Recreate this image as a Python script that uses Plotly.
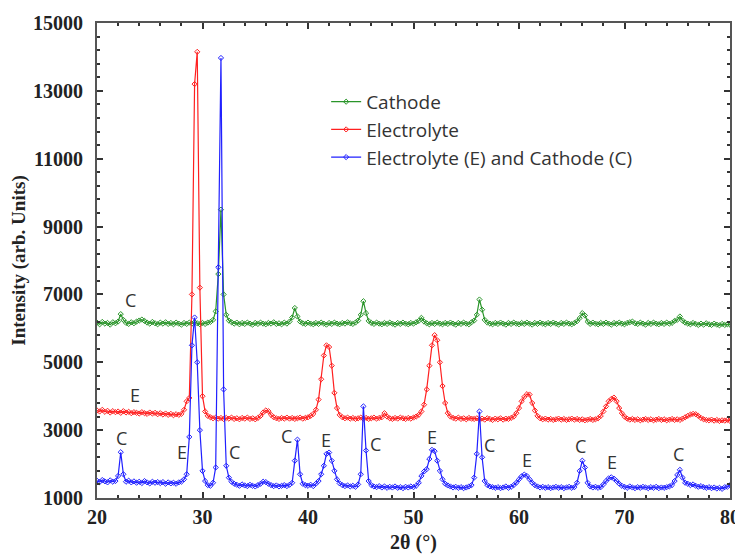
import numpy as np
import plotly.graph_objects as go

# 2-theta sampling grid (degrees), step 0.25 from 20 to 80
two_theta = [round(20 + 0.25 * i, 2) for i in range(241)]

cathode = [
    6170, 6120, 6190, 6140, 6160, 6110, 6180, 6150,
    6200, 6420, 6250, 6160, 6130, 6180, 6150, 6200,
    6230, 6260, 6220, 6170, 6140, 6190, 6150, 6120,
    6170, 6140, 6180, 6130, 6160, 6120, 6170, 6140,
    6110, 6160, 6130, 6170, 6140, 6180, 6150, 6120,
    6160, 6130, 6170, 6190, 6250, 6500, 7600, 9500,
    7000, 6400, 6230, 6180, 6140, 6170, 6120, 6160,
    6130, 6170, 6140, 6110, 6160, 6130, 6170, 6140,
    6120, 6160, 6140, 6180, 6130, 6150, 6120, 6170,
    6140, 6200, 6320, 6600, 6350, 6200, 6150, 6130,
    6170, 6140, 6120, 6160, 6130, 6170, 6140, 6110,
    6160, 6130, 6170, 6140, 6120, 6160, 6140, 6180,
    6150, 6130, 6170, 6230, 6400, 6800, 6450, 6220,
    6160, 6130, 6170, 6140, 6120, 6160, 6130, 6170,
    6140, 6110, 6160, 6130, 6170, 6140, 6120, 6160,
    6140, 6180, 6220, 6310, 6200, 6150, 6120, 6160,
    6130, 6170, 6140, 6120, 6160, 6130, 6170, 6140,
    6110, 6160, 6130, 6170, 6140, 6120, 6180, 6230,
    6400, 6850, 6550, 6250, 6170, 6140, 6120, 6160,
    6130, 6170, 6140, 6110, 6160, 6130, 6170, 6140,
    6120, 6160, 6130, 6170, 6140, 6110, 6160, 6130,
    6170, 6140, 6120, 6160, 6130, 6170, 6140, 6110,
    6160, 6130, 6170, 6140, 6120, 6160, 6210, 6300,
    6450, 6380, 6200, 6130, 6170, 6140, 6120, 6160,
    6130, 6170, 6140, 6110, 6160, 6130, 6170, 6140,
    6120, 6160, 6180, 6200, 6150, 6130, 6170, 6140,
    6110, 6160, 6130, 6170, 6140, 6120, 6160, 6130,
    6170, 6140, 6160, 6220, 6250, 6350, 6230, 6170,
    6140, 6120, 6160, 6130, 6100, 6140, 6110, 6150,
    6120, 6100, 6140, 6110, 6090, 6130, 6100, 6120,
    6110,
]

electrolyte = [
    3580, 3550, 3600, 3540, 3570, 3520, 3560, 3530,
    3550, 3510, 3560, 3520, 3540, 3500, 3530, 3510,
    3490, 3530, 3500, 3480, 3520, 3490, 3510, 3470,
    3500, 3460, 3490, 3450, 3480, 3440, 3470, 3450,
    3480, 3600, 3850, 3950, 7000, 13200, 14150, 7200,
    4000, 3550, 3420, 3380, 3350, 3370, 3340, 3360,
    3330, 3360, 3340, 3370, 3330, 3350, 3320, 3360,
    3340, 3370, 3330, 3350, 3320, 3360, 3420, 3520,
    3580, 3560, 3450, 3380, 3350, 3330, 3360, 3340,
    3370, 3340, 3360, 3330, 3350, 3370, 3340, 3360,
    3380, 3420, 3480, 3600, 3900, 4500, 5200, 5500,
    5450, 4900, 4100, 3650, 3450, 3380, 3350, 3370,
    3340, 3360, 3330, 3350, 3370, 3340, 3360, 3330,
    3350, 3370, 3340, 3360, 3380, 3500, 3400, 3350,
    3330, 3360, 3340, 3370, 3350, 3330, 3360, 3340,
    3370, 3400, 3450, 3550, 3750, 4200, 4900, 5500,
    5800, 5650, 5000, 4300, 3800, 3500, 3400, 3360,
    3340, 3370, 3330, 3350, 3320, 3360, 3340, 3330,
    3350, 3320, 3340, 3310, 3350, 3330, 3300, 3340,
    3320, 3350, 3310, 3340, 3330, 3360, 3400, 3500,
    3650, 3850, 3980, 4060, 4050, 3800, 3580, 3420,
    3350, 3320, 3340, 3310, 3330, 3300, 3320, 3340,
    3310, 3330, 3300, 3320, 3340, 3310, 3330, 3300,
    3320, 3290, 3310, 3330, 3300, 3320, 3350, 3420,
    3550, 3700, 3850, 3920, 3960, 3850, 3650, 3500,
    3400, 3340, 3310, 3330, 3300, 3320, 3290, 3310,
    3330, 3300, 3320, 3290, 3310, 3330, 3300, 3320,
    3290, 3310, 3330, 3300, 3320, 3300, 3340, 3380,
    3420, 3460, 3480, 3470, 3420, 3360, 3320, 3300,
    3290, 3310, 3280, 3300, 3270, 3290, 3280, 3300,
    3270,
]

combined = [
    1510, 1470, 1530, 1490, 1460, 1520, 1480, 1500,
    1650, 2350, 1700, 1480, 1510, 1460, 1490, 1450,
    1480, 1440, 1500, 1460, 1430, 1480, 1450, 1470,
    1440, 1470, 1420, 1460, 1430, 1450, 1420, 1460,
    1480, 1550, 1700, 2800, 5500, 6320, 5000, 3000,
    1800, 1500, 1380, 1360, 1450, 1900, 7800, 13970,
    4200, 1950, 1600, 1480, 1420, 1390, 1360, 1400,
    1370, 1350, 1390, 1360, 1340, 1380, 1420, 1480,
    1470, 1420, 1380, 1350, 1370, 1340, 1360, 1380,
    1350, 1390, 1450, 2100, 2720, 1700, 1420, 1380,
    1360, 1390, 1350, 1420, 1500, 1700, 1950, 2300,
    2340, 2100, 1800, 1550, 1430, 1380, 1350, 1370,
    1340, 1360, 1330, 1400, 1700, 3700, 2400, 1500,
    1380, 1340, 1320, 1350, 1310, 1340, 1300, 1330,
    1310, 1340, 1300, 1320, 1290, 1330, 1310, 1340,
    1320, 1360, 1450, 1650, 1780, 1850, 2150, 2420,
    2380, 2100, 1800, 1550, 1420, 1370, 1340, 1310,
    1330, 1300, 1320, 1290, 1310, 1340, 1380, 1600,
    2300, 3550, 2200, 1500, 1380, 1340, 1320, 1300,
    1320, 1290, 1310, 1340, 1300, 1330, 1380, 1450,
    1550, 1640, 1690, 1650, 1550, 1450, 1380, 1340,
    1310, 1330, 1300, 1320, 1290, 1310, 1330, 1300,
    1320, 1290, 1310, 1330, 1300, 1320, 1450, 1800,
    2100, 1900, 1450, 1340, 1310, 1330, 1300, 1320,
    1400, 1500, 1580, 1610, 1570, 1500, 1420, 1360,
    1330, 1300, 1340, 1310, 1290, 1320, 1300, 1330,
    1310, 1290, 1320, 1300, 1330, 1290, 1310, 1300,
    1320, 1340, 1380, 1500, 1680, 1830, 1600, 1450,
    1420, 1380, 1400, 1360, 1330, 1350, 1320, 1300,
    1320, 1290, 1310, 1280, 1300, 1270, 1320, 1330,
    1380,
]

series_names = ["Cathode", "Electrolyte", "Electrolyte (E) and Cathode (C)"]
series_colors = ["#2a952a", "#ff2020", "#2020ff"]

x_ticks = [20, 30, 40, 50, 60, 70, 80]
y_ticks = [1000, 3000, 5000, 7000, 9000, 11000, 13000, 15000]
y_tick_labels = ["1000", "3000", "5000", "7000", "9000", "11000", "13000", "15000"]

# peak labels
label_text = ["C", "E", "C", "E", "C", "C", "E", "C", "E", "C", "E", "C", "E", "C"]
label_x = [23.2, 23.6, 22.3, 28.1, 33.0, 38.0, 41.7, 46.4, 51.75, 57.25, 60.8, 65.8, 68.8, 75.1]
label_y = [6850, 4050, 2770, 2350, 2350, 2820, 2700, 2580, 2790, 2560, 2110, 2520, 2050, 2290]

SERIF = "'Liberation Serif', 'Times New Roman', Times, serif"
SANS = "'Open Sans', 'Noto Sans', sans-serif"

fig = go.Figure()
for name, ys, col in zip(series_names, [cathode, electrolyte, combined], series_colors):
    fig.add_trace(go.Scatter(
        x=two_theta, y=ys, name=name, mode="lines+markers",
        line=dict(color=col, width=1.2),
        marker=dict(symbol="diamond-open", size=4, color=col, line=dict(width=1, color=col)),
    ))

for t, xv, yv in zip(label_text, label_x, label_y):
    fig.add_annotation(x=xv, y=yv, text=t, showarrow=False,
                       font=dict(family=SANS, size=18, color="#333333"))

axis_common = dict(
    showgrid=False, zeroline=False, showline=True, linecolor="#555555", linewidth=2,
    mirror="allticks", ticks="inside", ticklen=6, tickwidth=1.5, tickcolor="#333333",
    tickfont=dict(family=SERIF, size=20, color="#222222", weight="bold"),
    automargin=False,
)

fig.update_xaxes(
    range=[20, 80], tickvals=x_ticks, ticktext=[str(v) for v in x_ticks],
    ticklabelstandoff=0,
    minor=dict(ticks="inside", ticklen=3, tickcolor="#333333", dtick=2, tick0=20),
    title=dict(text="2θ (°)", font=dict(family=SERIF, size=20, color="#222222", weight="bold")),
    **axis_common,
)
fig.update_yaxes(
    range=[1000, 15000], tickvals=y_ticks, ticktext=y_tick_labels,
    ticklabelstandoff=8,
    minor=dict(ticks="inside", ticklen=3, tickcolor="#333333", dtick=400, tick0=1000),
    title=dict(text="Intensity (arb. Units)", font=dict(family=SERIF, size=19, color="#222222", weight="bold")),
    **axis_common,
)

# the page body adds an 8 px offset, so the figure is 8 px smaller on each axis
fig.update_layout(
    width=735, height=546,
    margin=dict(l=89, r=13, t=15, b=56),
    paper_bgcolor="white", plot_bgcolor="white",
    showlegend=True,
    legend=dict(x=0.362, y=0.874, xanchor="left", yanchor="top",
                bgcolor="rgba(0,0,0,0)", borderwidth=0,
                font=dict(family=SANS, size=19, color="#333333")),
)

fig.write_html("out.html")
